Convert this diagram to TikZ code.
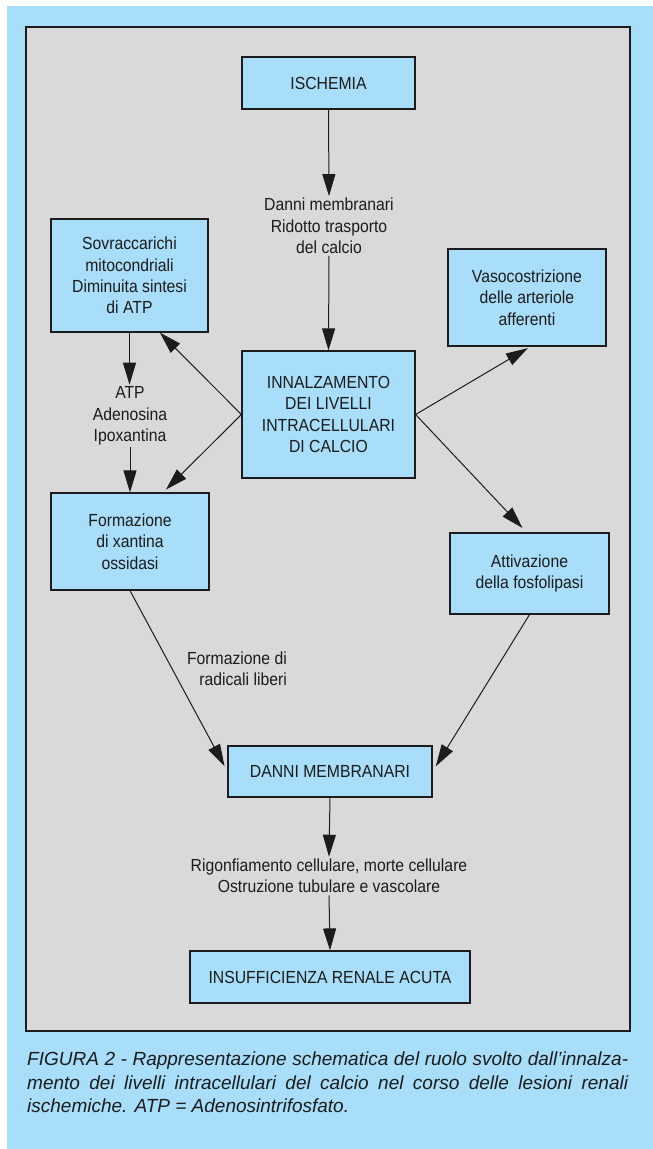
\documentclass[tikz,border=0pt]{standalone}
\usepackage{fontspec}
\setmainfont{Liberation Sans}[FakeStretch=0.9]
\newfontfamily\captfont{Liberation Sans}
\usetikzlibrary{arrows.meta}
\tolerance=10000
\hbadness=10000

\definecolor{bgblue}{RGB}{168,222,249}
\definecolor{panelgray}{RGB}{217,217,217}
\definecolor{ink}{RGB}{28,28,28}

\begin{document}
\begin{tikzpicture}[x=1pt, y=-1pt, >={Triangle[length=22pt,width=13pt]},
  every node/.style={font=\fontsize{17.5}{21.3}\selectfont, text=ink},
  box/.style={draw=ink, line width=1.2pt, fill=bgblue, align=center, inner sep=0pt},
  txt/.style={align=center, inner sep=2pt}]
\useasboundingbox (0,0) rectangle (653,1149);
\fill [bgblue] (7,6) rectangle (653,1149);
\draw [ink, line width=1.2pt, fill=panelgray] (26,27) rectangle (630,1031);

\node [box, minimum width=173, minimum height=52] (isch) at (328.5,83) {ISCHEMIA};
\node [txt] (danni1) at (329,226) {Danni membranari\\Ridotto trasporto\\del calcio};
\node [box, minimum width=157, minimum height=113] (sovr) at (129.5,275.5) {Sovraccarichi\\mitocondriali\\Diminuita sintesi\\di ATP};
\node [box, minimum width=158, minimum height=97] (vaso) at (527,297.5) {Vasocostrizione\\delle arteriole\\afferenti};
\node [box, minimum width=173, minimum height=127] (innalz) at (328.5,414.5) {INNALZAMENTO\\DEI LIVELLI\\INTRACELLULARI\\DI CALCIO};
\node [txt] (atp) at (130,416) {ATP\\Adenosina\\Ipoxantina};
\node [box, minimum width=158, minimum height=97] (xant) at (130,541.5) {Formazione\\di xantina\\ossidasi};
\node [box, minimum width=159, minimum height=81] (attiv) at (529.5,573.5) {Attivazione\\della fosfolipasi};
\node [txt, align=right, anchor=east] (radic) at (289,669) {Formazione di\\radicali liberi};
\node [box, minimum width=204, minimum height=51] (dmem) at (330,771.5) {DANNI MEMBRANARI};
\node [txt] (rigonf) at (329,876) {Rigonfiamento cellulare, morte cellulare\\Ostruzione tubulare e vascolare};
\node [box, minimum width=280, minimum height=52] (irenal) at (330,977) {INSUFFICIENZA RENALE ACUTA};

\begin{scope}[ink, line width=1pt]
  \draw [->] (isch.south) -- (danni1.north);
  \draw [->] (danni1.south) -- (innalz.north);
  \draw [->] (sovr.south) -- (sovr.south |- atp.north);
  \draw [->] (atp.south) -- (xant.north);
  \draw [->] (innalz.west) -- (sovr.-62);
  \draw [->, shorten >=4pt] (innalz.west) -- (xant.56);
  \draw [->, shorten >=3pt] (innalz.east) -- (vaso.-86);
  \draw [->, shorten >=6pt] (innalz.east) -- (attiv.94);
  \draw [->, shorten >=6pt] (xant.south) -- (dmem.west);
  \draw [->, shorten >=6pt] (attiv.south) -- (dmem.east);
  \draw [->] (dmem.south) -- (rigonf.north);
  \draw [->] (rigonf.south) -- (irenal.north);
\end{scope}

\node [anchor=north west, text width=601pt, align=justify, inner sep=0pt,
  font=\captfont\fontsize{19}{23.5}\selectfont\itshape] (capt) at (27,1052)
  {FIGURA 2 - Rappresentazione schematica del ruolo svolto dall’innalza-\linebreak
   mento dei livelli intracellulari del calcio nel corso delle lesioni renali\linebreak
   ischemiche. ATP = Adenosintrifosfato.};
\end{tikzpicture}
\end{document}
